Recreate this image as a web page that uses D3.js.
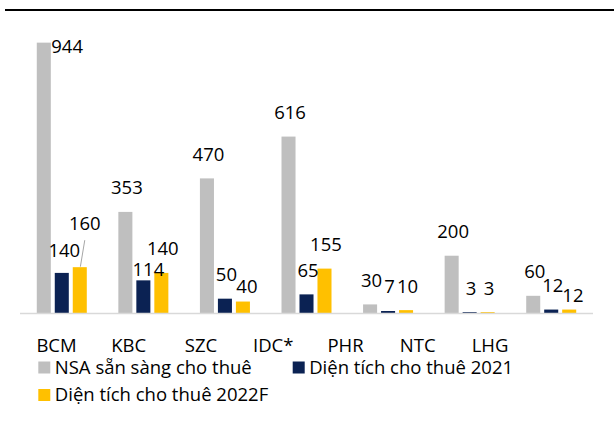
<!DOCTYPE html>
<html>
<head>
<meta charset="utf-8">
<script src="https://cdn.jsdelivr.net/npm/d3@7"></script>
<style>
  body { margin: 0; background: #fff; }
  text { font-family: "Open Sans", sans-serif; fill: #000; }
</style>
</head>
<body>
<svg id="vis"></svg>
<script>
const categories = ["BCM", "KBC", "SZC", "IDC*", "PHR", "NTC", "LHG"];
const seriesNames = ["NSA sẵn sàng cho thuê", "Diện tích cho thuê 2021", "Diện tích cho thuê 2022F"];
const nsaValues = [944, 353, 470, 616, 30, 200, 60];
const leased2021 = [140, 114, 50, 65, 7, 3, 12];
const leased2022F = [160, 140, 40, 155, 10, 3, 12];

const COLORS = ["#bfbfbf", "#0b2253", "#ffc000"];
const FONT_SIZE = 18.5;

// hand-placed data labels (Excel style), offsets from bar centre / top
const labelNudge = {
    "BCM|0": {dx: 7.5, dy: 10.6, anchor: "start"},
    "BCM|1": {dx: 2.5, dy: -16.4},
    "BCM|2": {dx: 5, dy: -37, leader: true},
    "KBC|1": {dx: 5, dy: -4},
    "SZC|2": {dx: 4, dy: -8.5},
    "LHG|2": {dx: 3.7, dy: -8}
};

const svg = d3.select("#vis").attr("width", 614).attr("height", 421);

const x = d3.scaleBand()
    .domain(categories)
    .range([21, 592])
    .paddingInner(0.387)
    .paddingOuter(0.1935);

const xInner = d3.scaleBand()
    .domain([0, 1, 2])
    .range([0, x.bandwidth()])
    .paddingInner(0.22);

const y = d3.scaleLinear().domain([0, 1000]).range([313, 26.6]);

// label axis in the source is spaced tighter than the bar groups
const xLabel = d3.scalePoint().domain(categories).range([56.5, 490]);

function main() {
    // top rule
    svg.append("line")
        .attr("x1", 5).attr("x2", 614)
        .attr("y1", 10).attr("y2", 10)
        .attr("stroke", "#000").attr("stroke-width", 2.2);

    const rows = categories.map((c, i) => ({
        cat: c,
        vals: [nsaValues[i], leased2021[i], leased2022F[i]]
    }));
    const bars = [];
    rows.forEach(r => r.vals.forEach((v, s) => bars.push({cat: r.cat, s: s, v: v})));

    drawBars(bars);
    drawAxis();
    drawLabels(bars);
    drawLegend();
}

function drawBars(bars) {
    svg.selectAll(".bar").data(bars).join("rect")
        .attr("class", "bar")
        .attr("x", d => x(d.cat) + xInner(d.s))
        .attr("width", xInner.bandwidth())
        .attr("y", d => y(d.v))
        .attr("height", d => y(0) - y(d.v))
        .attr("fill", d => COLORS[d.s]);
}

function drawAxis() {
    svg.append("line")
        .attr("x1", 20).attr("x2", 593)
        .attr("y1", y(0) + 0.5).attr("y2", y(0) + 0.5)
        .attr("stroke", "#d9d9d9").attr("stroke-width", 1.5);

    svg.selectAll(".cat").data(categories).join("text")
        .attr("class", "cat")
        .attr("x", d => xLabel(d))
        .attr("y", 351.5)
        .attr("text-anchor", "middle")
        .style("font-size", FONT_SIZE + "px")
        .text(d => d);
}

function drawLabels(bars) {
    const pos = d => {
        const n = labelNudge[d.cat + "|" + d.s] || {dx: 1.5, dy: -17.5};
        const cx = x(d.cat) + xInner(d.s) + xInner.bandwidth() / 2;
        return {x: cx + n.dx, y: y(d.v) + n.dy, anchor: n.anchor || "middle", leader: n.leader};
    };

    svg.selectAll(".val").data(bars).join("text")
        .attr("class", "val")
        .attr("x", d => pos(d).x)
        .attr("y", d => pos(d).y)
        .attr("text-anchor", d => pos(d).anchor)
        .style("font-size", FONT_SIZE + "px")
        .text(d => d.v);

    bars.filter(d => pos(d).leader).forEach(d => {
        const p = pos(d);
        const cx = x(d.cat) + xInner(d.s) + xInner.bandwidth() / 2;
        svg.append("line")
            .attr("x1", p.x).attr("y1", p.y + 10)
            .attr("x2", cx + 0.6).attr("y2", y(d.v) - 0.5)
            .attr("stroke", "#a6a6a6").attr("stroke-width", 1);
    });
}

function drawLegend() {
    const spots = [{x: 38.3, y: 373.5}, {x: 292.7, y: 373.5}, {x: 38.3, y: 401}];
    const g = svg.selectAll(".legend").data(seriesNames).join("g")
        .attr("class", "legend")
        .attr("transform", (d, i) => `translate(${spots[i].x},${spots[i].y})`);
    g.append("rect")
        .attr("x", 0).attr("y", -12)
        .attr("width", 12).attr("height", 12)
        .attr("fill", (d, i) => COLORS[i]);
    g.append("text")
        .attr("x", 16.5).attr("y", 0)
        .style("font-size", FONT_SIZE + "px")
        .text(d => d);
}

main();
</script>
</body>
</html>
